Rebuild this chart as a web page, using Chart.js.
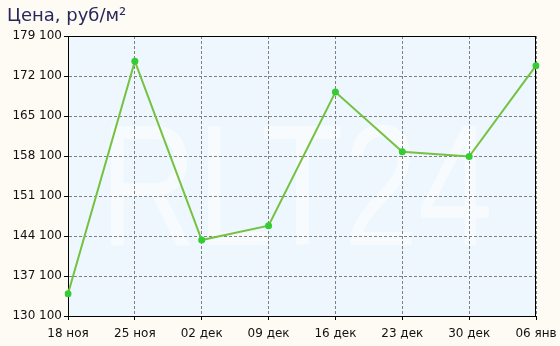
<!DOCTYPE html>
<html>
<head>
<meta charset="utf-8">
<script src="https://cdn.jsdelivr.net/npm/chart.js@4.4.1/dist/chart.umd.min.js"></script>
<style>
  html, body { margin: 0; padding: 0; background: #FEFBF5; }
  #wrap { width: 560px; height: 346px; position: relative; }
</style>
</head>
<body>
<div id="wrap"><canvas id="c" width="560" height="346"></canvas></div>
<script>
const titleText = 'Цена, руб/м²';
const watermarkText = 'RLT24';
const categories = ['18 ноя', '25 ноя', '02 дек', '09 дек', '16 дек', '23 дек', '30 дек', '06 янв'];
const prices = [134000, 174700, 143400, 145900, 169300, 158850, 158000, 173900];
const yTickValues = [130100, 137100, 144100, 151100, 158100, 165100, 172100, 179100];

const fmt = v => String(v).replace(/\B(?=(\d{3})+(?!\d))/g, ' ');

const bgPlugin = {
  id: 'bgPlugin',
  beforeDraw(chart) {
    const ctx = chart.ctx;
    const a = chart.chartArea;
    ctx.save();
    ctx.fillStyle = '#FEFBF5';
    ctx.fillRect(0, 0, chart.width, chart.height);
    ctx.fillStyle = '#EDF7FD';
    ctx.fillRect(a.left, a.top, a.right - a.left, a.bottom - a.top);
    ctx.beginPath();
    ctx.rect(a.left, a.top, a.right - a.left, a.bottom - a.top);
    ctx.clip();
    ctx.fillStyle = '#F7FBFE';
    ctx.font = '172px "Liberation Sans", Arial, sans-serif';
    ctx.textBaseline = 'alphabetic';
    ctx.translate(100, 245);
    ctx.scale(0.78, 1);
    ctx.fillText(watermarkText, 0, 0);
    ctx.restore();
    ctx.save();
    ctx.fillStyle = '#27275C';
    ctx.font = '18px "DejaVu Sans", Verdana, sans-serif';
    ctx.textBaseline = 'alphabetic';
    ctx.fillText(titleText, 7, 21);
    ctx.restore();
  }
};

const framePlugin = {
  id: 'framePlugin',
  beforeDatasetsDraw(chart) {
    const ctx = chart.ctx;
    const a = chart.chartArea;
    ctx.save();
    ctx.strokeStyle = '#000';
    ctx.lineWidth = 1;
    ctx.strokeRect(a.left + 0.5, a.top + 0.5, a.right - a.left - 1, a.bottom - a.top);
    ctx.restore();
  }
};

new Chart(document.getElementById('c'), {
  type: 'line',
  data: {
    labels: categories,
    datasets: [{
      data: prices,
      borderColor: '#74C23F',
      borderWidth: 2,
      pointRadius: 3.5,
      pointHoverRadius: 3.5,
      pointBackgroundColor: '#33CC33',
      pointBorderWidth: 0,
      tension: 0,
      fill: false
    }]
  },
  options: {
    responsive: false,
    animation: false,
    devicePixelRatio: 1,
    layout: { padding: { left: 0, right: 24, top: 36, bottom: 0 } },
    plugins: { legend: { display: false }, title: { display: false }, tooltip: { enabled: false } },
    scales: {
      x: {
        type: 'category',
        offset: false,
        grid: {
          color: '#808080',
          tickColor: '#000',
          tickLength: 4,
          tickBorderDash: []
        },
        border: { color: '#000', dash: [3, 2] },
        ticks: {
          color: '#111',
          font: { family: '"DejaVu Sans", Verdana, sans-serif', size: 12 },
          padding: 7,
          maxRotation: 0,
          autoSkip: false
        },
        afterFit(s) { s.height = 30; s.paddingLeft = 0; s.paddingRight = 0; }
      },
      y: {
        min: yTickValues[0],
        max: yTickValues[yTickValues.length - 1],
        afterBuildTicks(s) { s.ticks = yTickValues.map(v => ({ value: v })); },
        grid: {
          color: '#808080',
          tickColor: '#000',
          tickLength: 4,
          tickBorderDash: []
        },
        border: { color: '#000', dash: [3, 2] },
        ticks: {
          color: '#111',
          font: { family: '"DejaVu Sans", Verdana, sans-serif', size: 12 },
          padding: 2,
          callback: v => fmt(v)
        },
        afterFit(s) { s.width = 68; s.paddingTop = 0; s.paddingBottom = 0; }
      }
    }
  },
  plugins: [bgPlugin, framePlugin]
});
</script>
</body>
</html>
